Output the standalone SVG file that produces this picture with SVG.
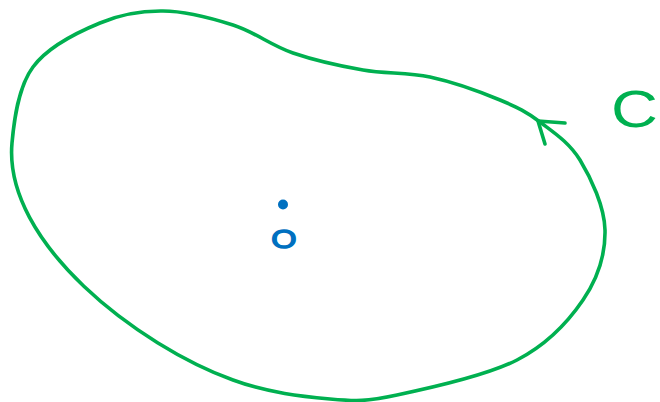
<svg xmlns="http://www.w3.org/2000/svg" width="660" height="402" viewBox="0 0 660 402">
<style>
.g{fill:none;stroke:#00b050;stroke-width:3.6;stroke-linecap:round;stroke-linejoin:round}
.lblC{font-family:"Liberation Sans",Arial,sans-serif;font-size:52px;fill:#00b050}
.lblO{font-family:"Liberation Sans",Arial,sans-serif;font-size:25px;fill:#0070c0;stroke:#0070c0;stroke-width:1.4;text-anchor:middle}
</style>
<rect width="660" height="402" fill="#ffffff"/>
<g id="curve">
<path class="g" d="M163,11 C185,11 211,18 233,25 C255,32 271,45.5 293,53 C315,60.5 340,66 363,70 C386,74 407,72 430,77 C453,82 482,92.5 500,100 C518,107.5 527,112 540,122 C553,132 569,142 580,160 C591,178 604.5,206.7 605,230 C605.5,253 598,278 583,300 C568,322 548,344 517,360 C486,376 428,388.5 397,395 C366,401.5 357,401.5 330,399 C303,396.5 268.5,393 233,380 C139,346 3,243 12,143 C14,121 18,87 33,67 C47.7,47 78,32 100,23 C121.7,13.7 141,10.7 163,11 Z"/>
</g>
<g id="arrowhead">
<path class="g" d="M565,123 L538,121 L545,144"/>
</g>
<g id="label-C">
<text class="lblC" transform="translate(611,127) scale(1.25,1)" x="0" y="0">C</text>
</g>
<g id="point-O">
<circle cx="283" cy="204.5" r="5" fill="#0070c0"/>
<text class="lblO" transform="translate(284,248) scale(1.3,1)" x="0" y="0">O</text>
</g>
</svg>
